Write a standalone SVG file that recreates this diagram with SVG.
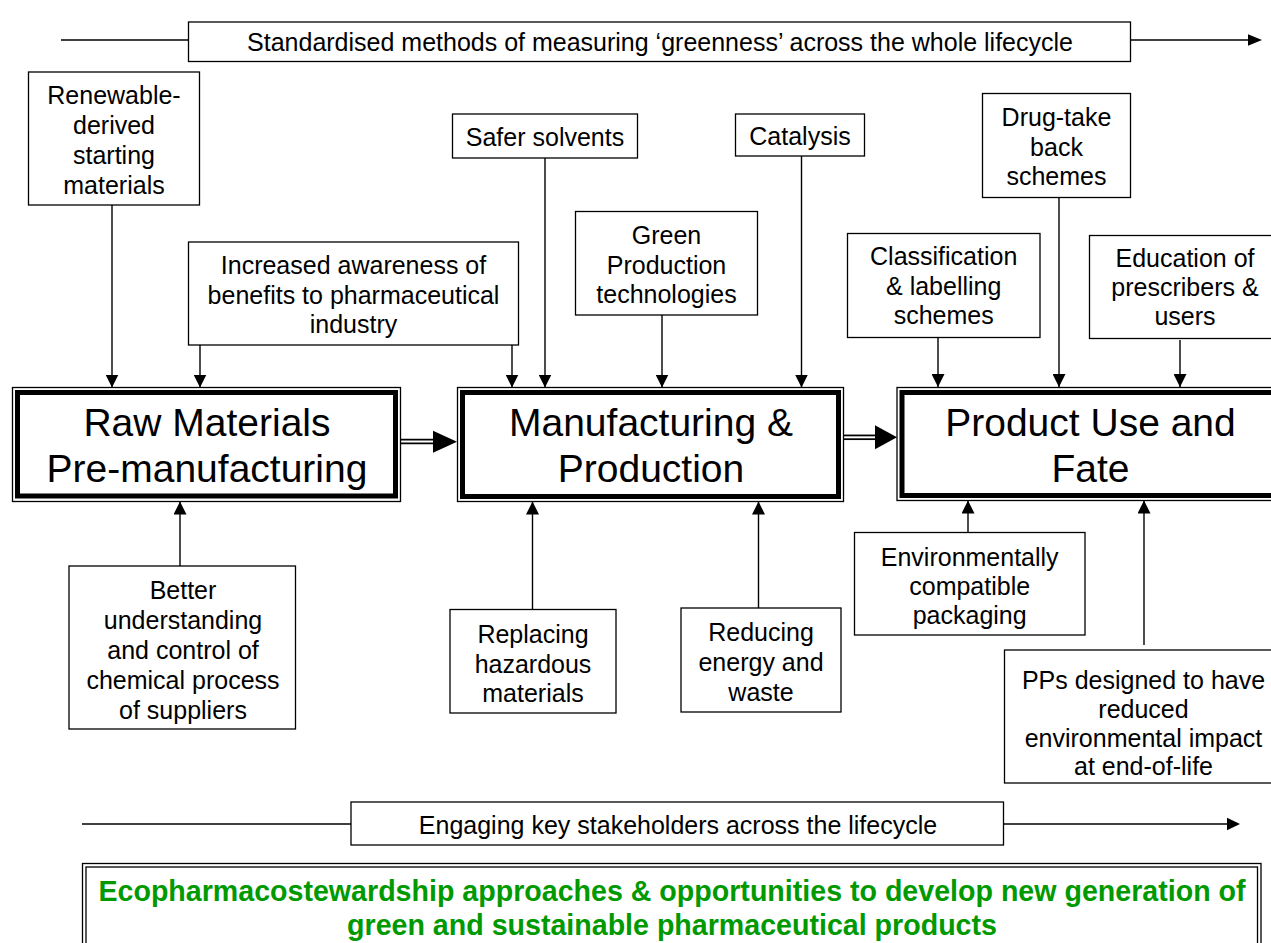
<svg xmlns="http://www.w3.org/2000/svg" width="1271" height="943" viewBox="0 0 1271 943">
  <style>
    text { font-family: "Liberation Sans", Arial, sans-serif; fill: #000; text-anchor: middle; }
    .t { font-size: 25px; }
    .big { font-size: 39px; }
    .green { font-size: 28.6px; font-weight: bold; fill: #009a00; }
    .box { fill: #fff; stroke: #000; stroke-width: 1.3; }
    .outer { fill: #fff; stroke: #000; stroke-width: 1.3; }
    .inner { fill: none; stroke: #000; stroke-width: 5; }
    .conn { fill: none; stroke: #000; stroke-width: 1.4; marker-end: url(#head); }
    .band { fill: none; stroke: #000; stroke-width: 1.4; }
    .dbl { stroke: #000; stroke-width: 5.5; }
    .dblw { stroke: #fff; stroke-width: 2; }
  </style>
  <defs>
    <marker id="head" markerUnits="userSpaceOnUse" markerWidth="13" markerHeight="13" refX="13" refY="6.5" orient="auto">
      <path d="M0,0 L13,6.5 L0,13 Z" fill="#000"/>
    </marker>
  </defs>
  <rect width="1271" height="943" fill="#fff"/>

  <!-- lifecycle bands and connectors -->
  <g id="connectors">
    <line class="band" x1="61" y1="40" x2="1250" y2="40"/>
    <polygon points="1248,34.3 1262,40 1248,45.7" fill="#000"/>
    <line class="band" x1="82" y1="824" x2="1228" y2="824"/>
    <polygon points="1227,817.7 1240,824 1227,830.3" fill="#000"/>

    <line class="conn" x1="112" y1="205" x2="112" y2="387.5"/>
    <line class="conn" x1="200" y1="345" x2="200" y2="387.5"/>
    <line class="conn" x1="512" y1="345" x2="512" y2="387.5"/>
    <line class="conn" x1="545" y1="158" x2="545" y2="387.5"/>
    <line class="conn" x1="662" y1="315" x2="662" y2="387.5"/>
    <line class="conn" x1="801.5" y1="156" x2="801.5" y2="387.5"/>
    <line class="conn" x1="938" y1="337.5" x2="938" y2="387"/>
    <line class="conn" x1="1059" y1="197.5" x2="1059" y2="387"/>
    <line class="conn" x1="1180" y1="340" x2="1180" y2="387"/>

    <line class="conn" x1="180" y1="566" x2="180" y2="501.5"/>
    <line class="conn" x1="532.5" y1="609.5" x2="532.5" y2="501.5"/>
    <line class="conn" x1="758.5" y1="608" x2="758.5" y2="501.5"/>
    <line class="conn" x1="968" y1="532.5" x2="968" y2="500.5"/>
    <line class="conn" x1="1144" y1="645" x2="1144" y2="500.5"/>

    <!-- double-stroke flow arrows between stages -->
    <line class="dbl" x1="401" y1="441.5" x2="434" y2="441.5"/>
    <line class="dblw" x1="401" y1="441.5" x2="434" y2="441.5"/>
    <polygon points="433,430.7 457,441.7 433,452.7" fill="#000"/>
    <line class="dbl" x1="844" y1="437.3" x2="876" y2="437.3"/>
    <line class="dblw" x1="844" y1="437.3" x2="876" y2="437.3"/>
    <polygon points="875,425.3 897,437.3 875,449.3" fill="#000"/>
  </g>

  <g id="band-standardised">
    <rect class="box" x="188.5" y="22" width="942" height="39.5"/>
    <text class="t" x="660" y="50.5">Standardised methods of measuring ‘greenness’ across the whole lifecycle</text>
  </g>

  <g id="renewable">
    <rect class="box" x="28.5" y="72" width="171" height="133"/>
    <text class="t" x="114" y="104">Renewable-</text>
    <text class="t" x="114" y="134">derived</text>
    <text class="t" x="114" y="164">starting</text>
    <text class="t" x="114" y="194">materials</text>
  </g>

  <g id="awareness">
    <rect class="box" x="188.5" y="242" width="330" height="103"/>
    <text class="t" x="353.5" y="273.5">Increased awareness of</text>
    <text class="t" x="353.5" y="303.5">benefits to pharmaceutical</text>
    <text class="t" x="353.5" y="332.5">industry</text>
  </g>

  <g id="safer-solvents">
    <rect class="box" x="452.5" y="114" width="185" height="44"/>
    <text class="t" x="545" y="145.5">Safer solvents</text>
  </g>

  <g id="catalysis">
    <rect class="box" x="735.5" y="114" width="129" height="42"/>
    <text class="t" x="800" y="145">Catalysis</text>
  </g>

  <g id="green-production">
    <rect class="box" x="575.5" y="211.5" width="182" height="103.5"/>
    <text class="t" x="666.5" y="243.5">Green</text>
    <text class="t" x="666.5" y="273.5">Production</text>
    <text class="t" x="666.5" y="303">technologies</text>
  </g>

  <g id="classification">
    <rect class="box" x="847.5" y="233.5" width="192.5" height="104"/>
    <text class="t" x="943.7" y="265">Classification</text>
    <text class="t" x="943.7" y="294.5">&amp; labelling</text>
    <text class="t" x="943.7" y="323.5">schemes</text>
  </g>

  <g id="drug-take-back">
    <rect class="box" x="982.5" y="93.5" width="148" height="104"/>
    <text class="t" x="1056.5" y="126">Drug-take</text>
    <text class="t" x="1056.5" y="155.5">back</text>
    <text class="t" x="1056.5" y="185">schemes</text>
  </g>

  <g id="education">
    <rect class="box" x="1089.5" y="235.5" width="191" height="103"/>
    <text class="t" x="1185" y="266.5">Education of</text>
    <text class="t" x="1185" y="295.5">prescribers &amp;</text>
    <text class="t" x="1185" y="325">users</text>
  </g>

  <g id="raw-materials">
    <rect class="outer" x="12.5" y="387.5" width="388" height="114"/>
    <rect class="inner" x="17.5" y="392.5" width="378" height="103.5"/>
    <text class="big" x="207" y="436">Raw Materials</text>
    <text class="big" x="207" y="482">Pre-manufacturing</text>
  </g>

  <g id="manufacturing">
    <rect class="outer" x="457.5" y="387.5" width="386" height="114"/>
    <rect class="inner" x="462.5" y="392.5" width="376" height="104"/>
    <text class="big" x="651" y="436">Manufacturing &amp;</text>
    <text class="big" x="651" y="482">Production</text>
  </g>

  <g id="product-use">
    <rect class="outer" x="897" y="387.5" width="388" height="113"/>
    <rect class="inner" x="902" y="392.5" width="378" height="103"/>
    <text class="big" x="1090.5" y="435.5">Product Use and</text>
    <text class="big" x="1090.5" y="481.5">Fate</text>
  </g>

  <g id="better-understanding">
    <rect class="box" x="69" y="566" width="226.5" height="163"/>
    <text class="t" x="183" y="598.5">Better</text>
    <text class="t" x="183" y="628.5">understanding</text>
    <text class="t" x="183" y="658.5">and control of</text>
    <text class="t" x="183" y="688.5">chemical process</text>
    <text class="t" x="183" y="718.5">of suppliers</text>
  </g>

  <g id="replacing-hazardous">
    <rect class="box" x="450" y="609.5" width="166" height="103.5"/>
    <text class="t" x="533" y="643">Replacing</text>
    <text class="t" x="533" y="672.5">hazardous</text>
    <text class="t" x="533" y="702">materials</text>
  </g>

  <g id="reducing-energy">
    <rect class="box" x="681" y="608" width="160" height="104"/>
    <text class="t" x="761" y="640.5">Reducing</text>
    <text class="t" x="761" y="670.5">energy and</text>
    <text class="t" x="761" y="700.5">waste</text>
  </g>

  <g id="packaging">
    <rect class="box" x="854.5" y="532.5" width="230.5" height="102.5"/>
    <text class="t" x="969.7" y="566">Environmentally</text>
    <text class="t" x="969.7" y="595">compatible</text>
    <text class="t" x="969.7" y="624">packaging</text>
  </g>

  <g id="pps-design">
    <rect class="box" x="1004.5" y="650" width="278" height="133"/>
    <text class="t" x="1143.5" y="689">PPs designed to have</text>
    <text class="t" x="1143.5" y="718">reduced</text>
    <text class="t" x="1143.5" y="746.5">environmental impact</text>
    <text class="t" x="1143.5" y="775">at end-of-life</text>
  </g>

  <g id="band-engaging">
    <rect class="box" x="351" y="802" width="652.5" height="43"/>
    <text class="t" x="678" y="833.5">Engaging key stakeholders across the lifecycle</text>
  </g>

  <g id="ecopharmacostewardship">
    <rect class="outer" x="82.5" y="863.5" width="1178.5" height="100"/>
    <rect fill="none" stroke="#000" stroke-width="1.3" x="86" y="867" width="1171.5" height="100"/>
    <text class="green" x="672" y="900.5">Ecopharmacostewardship approaches &amp; opportunities to develop new generation of</text>
    <text class="green" x="672" y="935">green and sustainable pharmaceutical products</text>
  </g>
</svg>
